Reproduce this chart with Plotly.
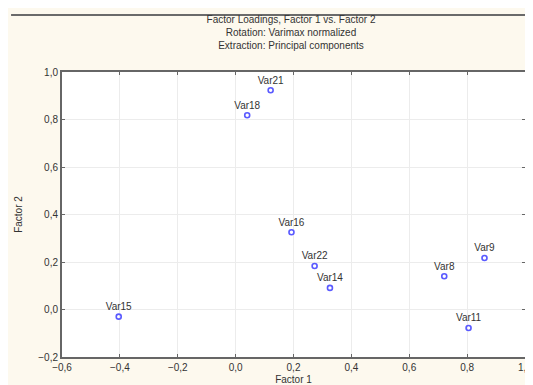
import plotly.graph_objects as go

labels = ["Var21", "Var18", "Var16", "Var22", "Var14", "Var9", "Var8", "Var11", "Var15"]
factor1 = [0.121, 0.040, 0.193, 0.273, 0.326, 0.860, 0.721, 0.805, -0.404]
factor2 = [0.923, 0.818, 0.325, 0.183, 0.091, 0.217, 0.140, -0.078, -0.030]

title_lines = ["Factor Loadings, Factor 1 vs. Factor 2",
               "Rotation: Varimax normalized",
               "Extraction: Principal components"]

FONT = "Liberation Sans, Arial"

fig = go.Figure()
fig.add_trace(go.Scatter(
    x=factor1, y=factor2, mode="markers+text", text=labels,
    textposition="top center",
    textfont=dict(family=FONT, size=10, color="#333333"),
    marker=dict(symbol="circle-open", size=5, color="#5a5aff", line=dict(width=1.6, color="#5a5aff")),
    showlegend=False, cliponaxis=False,
))

axis_common = dict(
    showgrid=True, gridcolor="#ececec", gridwidth=1,
    zeroline=False, showline=True, linecolor="#666666", linewidth=2,
    mirror="ticks", ticks="inside", ticklen=3, tickcolor="#666666",
    tickformat=".1f",
    tickfont=dict(family=FONT, size=10, color="#333333"),
)

fig.update_layout(
    width=533, height=385,
    margin=dict(l=53, r=9, t=64, b=36),
    paper_bgcolor="#fdf9ee", plot_bgcolor="#ffffff",
    separators=",.",
    xaxis=dict(range=[-0.6, 1.0], dtick=0.2, tick0=-0.6,
               title=dict(text="Factor 1", standoff=4,
                          font=dict(family=FONT, size=10, color="#333333")),
               **axis_common),
    yaxis=dict(range=[-0.2, 1.0], dtick=0.2, tick0=-0.2,
               title=dict(text="Factor 2", standoff=14,
                          font=dict(family=FONT, size=10, color="#333333")),
               **axis_common),
    title=dict(text="<br>".join(title_lines), x=0.531, xanchor="center",
               y=1 - 15 / 385, yanchor="top",
               font=dict(family=FONT, size=10, color="#333333")),
    shapes=[dict(type="line", xref="paper", yref="paper", x0=-0.11, x1=1.1, y0=1.2, y1=1.2,
                 line=dict(color="#6a6a6a", width=2))],
)

fig.write_html("out.html")
